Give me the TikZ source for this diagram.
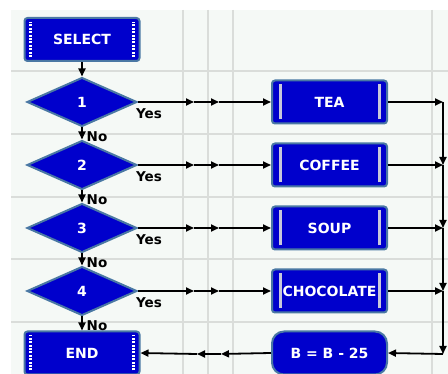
\documentclass[tikz,border=0pt]{standalone}
\usepackage{fontspec}
\setmainfont{DejaVu Sans}
\usetikzlibrary{shapes.geometric,arrows.meta}
\definecolor{fillblue}{HTML}{0000CC}
\definecolor{edgeblue}{HTML}{4A78A4}
\definecolor{gridbg}{HTML}{F5F9F6}
\definecolor{gridline}{HTML}{DADDDA}
\definecolor{barcol}{HTML}{C8C8DA}
\tikzset{
  base/.style={fill=fillblue, draw=edgeblue, line width=2pt, text=white,
    font=\fontsize{14}{16}\selectfont\bfseries, inner sep=0pt},
  procbox/.style={base, rectangle, rounded corners=3pt, minimum width=115pt, minimum height=43pt,
    path picture={
      \draw[barcol, line width=3pt]
        ([xshift=8pt,yshift=4pt]path picture bounding box.south west) --
        ([xshift=8pt,yshift=-4pt]path picture bounding box.north west);
      \draw[barcol, line width=3pt]
        ([xshift=-8pt,yshift=4pt]path picture bounding box.south east) --
        ([xshift=-8pt,yshift=-4pt]path picture bounding box.north east);
    }},
  termbox/.style={base, rectangle, rounded corners=3pt, minimum width=115pt, minimum height=43pt,
    path picture={
      \draw[white, line width=3pt, dash pattern=on 2pt off 1.4pt]
        ([xshift=6pt,yshift=4pt]path picture bounding box.south west) --
        ([xshift=6pt,yshift=-4pt]path picture bounding box.north west);
      \draw[white, line width=3pt, dash pattern=on 2pt off 1.4pt]
        ([xshift=-6pt,yshift=4pt]path picture bounding box.south east) --
        ([xshift=-6pt,yshift=-4pt]path picture bounding box.north east);
    }},
  calcbox/.style={base, rectangle, rounded corners=12pt, minimum width=115pt, minimum height=43pt},
  decide/.style={base, diamond, minimum width=110pt, minimum height=49pt, shape aspect=2.2},
  lbl/.style={font=\fontsize{13.5}{15}\selectfont\bfseries, text=black, inner sep=0pt},
  arr/.style={line width=1.8pt, -{Triangle[length=8pt,width=7pt]}},
}
\begin{document}
\begin{tikzpicture}[x=1pt,y=-1pt]
\useasboundingbox (0,0) rectangle (448,374);
\fill[white] (0,0) rectangle (448,374);
\fill[gridbg] (11,10) rectangle (448,374);
\foreach \gy in {71,134,197,259,322} \draw[gridline, line width=1.3pt] (11,\gy) -- (448,\gy);
\foreach \gx in {183,208,233,432} \draw[gridline, line width=1.3pt] (\gx,10) -- (\gx,374);

\node[termbox] (select) at (82,39.5) {SELECT};
\node[decide] (d1) at (82,102) {1};
\node[decide] (d2) at (82,165) {2};
\node[decide] (d3) at (82,228) {3};
\node[decide] (d4) at (82,291) {4};
\node[termbox] (end) at (82,353) {END};

\node[procbox] (tea) at (329.5,102) {TEA};
\node[procbox] (coffee) at (329.5,165) {COFFEE};
\node[procbox] (soup) at (329.5,228) {SOUP};
\node[procbox] (choc) at (329.5,291) {CHOCOLATE};
\node[calcbox] (calc) at (329.5,353) {B = B - 25};

\draw[arr] (select) -- (d1);
\draw[arr] (d1) -- (d2);
\draw[arr] (d2) -- (d3);
\draw[arr] (d3) -- (d4);
\draw[arr] (d4) -- (end);

\foreach \n/\t/\yy in {d1/tea/102, d2/coffee/165, d3/soup/228, d4/choc/291}{
  \coordinate (\n a) at (194,\yy);
  \coordinate (\n b) at (219,\yy);
  \draw[arr] (\n.east) -- (\n a);
  \draw[arr] (\n a) -- (\n b);
  \draw[arr] (\n b) -- (\t.west);
}

\coordinate (r1) at (443,102);
\coordinate (r2) at (443,165);
\coordinate (r3) at (443,228);
\coordinate (r4) at (443,291);
\coordinate (r5) at (443,354);
\draw[arr] (tea.east) -- (r1);
\draw[arr] (coffee.east) -- (r2);
\draw[arr] (soup.east) -- (r3);
\draw[arr] (choc.east) -- (r4);
\draw[arr] (r1) -- (r2);
\draw[arr] (r2) -- (r3);
\draw[arr] (r3) -- (r4);
\draw[arr] (r4) -- (r5);
\draw[arr] (r5) -- (calc.east);

\coordinate (b1) at (221,354);
\coordinate (b2) at (197,354);
\draw[arr] (calc.west) -- (b1);
\draw[arr] (b1) -- (b2);
\draw[arr] (b2) -- (end.east);

\foreach \k/\yy in {1/114,2/177,3/240,4/303} \node[lbl] (yes\k) at (149,\yy) {Yes};
\foreach \k/\yy in {1/137,2/200,3/263,4/326} \node[lbl] (no\k) at (97,\yy) {No};
\end{tikzpicture}
\end{document}
